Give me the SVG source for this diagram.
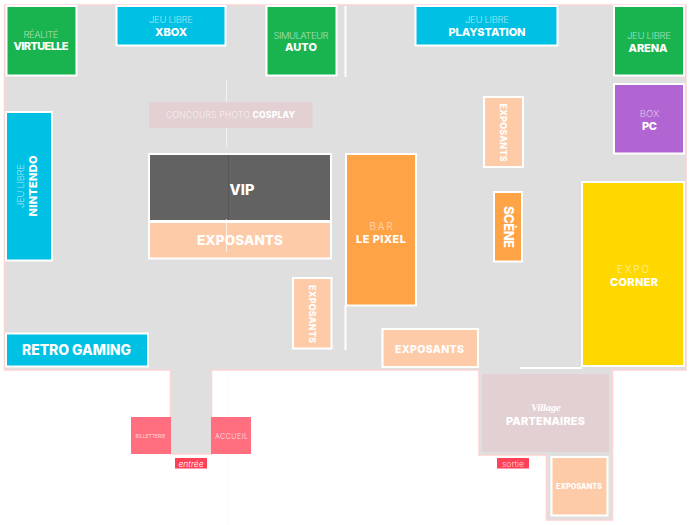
<svg xmlns="http://www.w3.org/2000/svg" width="691" height="525" viewBox="0 0 691 525">
<style>
.n{stroke:#fff;stroke-width:2}
text{font-family:Inter,"Open Sans","Liberation Sans",sans-serif;fill:#fff;text-anchor:middle}
.l{font-size:9.500px;font-weight:300;fill-opacity:.62}
.b{font-size:11px;font-weight:800}
.w{stroke:#fff;stroke-width:2;fill:none}
.f{stroke:#fff;stroke-width:1;fill:none;stroke-opacity:.55}
</style>
<rect width="691" height="525" fill="#fff"/>
<g id="floor">
<path d="M5 5H686V370H612.500V520H546.500V455H479V370H211.500V454H170.500V370H4.500V5Z" fill="#dfdfdf" stroke="#fbd4d4" stroke-width="1.500"/>
</g>
<g id="connectors">
<path class="w" d="M345.500 6V77M345.500 305V350M520 368H582"/>
<path class="f" d="M226.500 80V147"/>
<path d="M228 375V525" stroke="#fcf9f9" stroke-width="1" fill="none"/>
</g>
<g id="realite"><rect class="n" x="6.500" y="6" width="70" height="69.500" fill="#19b34f"/><text class="l" x="41" y="38" textLength="35">RÉALITÉ</text><text class="b" x="41" y="50" textLength="55">VIRTUELLE</text></g>
<g id="xbox"><rect class="n" x="116.500" y="6" width="109" height="39.500" fill="#00c1e4"/><text class="l" x="171" y="23" textLength="44">JEU LIBRE</text><text class="b" x="171" y="36" textLength="32">XBOX</text></g>
<g id="auto"><rect class="n" x="266.500" y="6" width="70" height="69.500" fill="#19b34f"/><text class="l" x="301" y="39" textLength="55">SIMULATEUR</text><text class="b" x="301" y="51" textLength="32">AUTO</text></g>
<g id="playstation"><rect class="n" x="415.500" y="6" width="142" height="39.500" fill="#00c1e4"/><text class="l" x="487" y="23" textLength="44">JEU LIBRE</text><text class="b" x="487" y="36" textLength="77">PLAYSTATION</text></g>
<g id="arena"><rect class="n" x="614" y="6" width="70" height="69.500" fill="#19b34f"/><text class="l" x="649" y="39" textLength="44">JEU LIBRE</text><text class="b" x="648" y="52" textLength="39">ARENA</text></g>
<g id="box-pc"><rect class="n" x="614" y="84" width="70" height="69.500" fill="#b165d2"/><text class="l" x="649.500" y="117">BOX</text><text class="b" x="649.500" y="130" textLength="15">PC</text></g>
<g id="expo-corner"><rect class="n" x="582" y="182" width="102" height="184" fill="#ffd800"/><text x="633" y="272.500" font-size="10" font-weight="300" fill-opacity=".62" textLength="32">EXPO</text><text class="b" x="634" y="286" textLength="48">CORNER</text></g>
<g id="concours"><rect x="149" y="102" width="163.500" height="26" fill="#e3d0d3"/><text x="230.500" y="118" font-size="8.500" font-weight="300" fill-opacity=".7" textLength="129">CONCOURS PHOTO <tspan font-weight="800" fill-opacity="1">COSPLAY</tspan></text></g>
<g id="nintendo"><rect class="n" x="6" y="112" width="46" height="148.500" fill="#00c1e4"/><text class="l" transform="translate(24 186) rotate(-90)" textLength="44">JEU LIBRE</text><text class="b" transform="translate(37 186) rotate(-90)" textLength="61">NINTENDO</text></g>
<g id="vip"><rect class="n" x="149" y="154" width="182" height="67" fill="#626262"/><path d="M228.500 155V220" stroke="#565656" stroke-width="1"/><text x="242" y="195" font-size="14.500" font-weight="800" textLength="25">VIP</text></g>
<g id="exposants-main"><rect class="n" x="149" y="222" width="182" height="36.500" fill="#fecba9"/><path d="M226.500 219V252" stroke="#fff" stroke-opacity=".7" stroke-width="1"/><text x="240" y="245" font-size="13.500" font-weight="800" textLength="86">EXPOSANTS</text></g>
<g id="bar"><rect class="n" x="346" y="154" width="70" height="151.500" fill="#ffa347"/><text x="381" y="229.500" font-size="10" font-weight="300" fill-opacity=".62" textLength="23">BAR</text><text class="b" x="381" y="243" textLength="50">LE PIXEL</text></g>
<g id="exposants-top"><rect class="n" x="484" y="97" width="39" height="70" fill="#fecba9"/><text transform="translate(499.500 132.500) rotate(90)" font-size="8.800" font-weight="800" textLength="58">EXPOSANTS</text></g>
<g id="scene"><rect class="n" x="494" y="192" width="28" height="69.500" fill="#ffa347"/><text transform="translate(504 227) rotate(90)" font-size="13" font-weight="800" textLength="42">SCÈNE</text></g>
<g id="exposants-vertical"><rect class="n" x="293" y="278" width="38.500" height="70.500" fill="#fecba9"/><text transform="translate(309 314) rotate(90)" font-size="8.800" font-weight="800" textLength="58">EXPOSANTS</text></g>
<g id="exposants-bottom"><rect class="n" x="382.500" y="329" width="95.500" height="38" fill="#fecba9"/><text x="429.500" y="353" font-size="10.500" font-weight="800" textLength="69">EXPOSANTS</text></g>
<g id="retro"><rect class="n" x="6" y="333.500" width="142" height="33" fill="#00c1e4"/><text x="76.500" y="354.500" font-size="14" font-weight="800" textLength="109">RETRO GAMING</text></g>
<g id="village"><rect x="482" y="374" width="127" height="78" fill="#e3d0d3"/><text x="546" y="410.500" font-size="11" font-style="italic" font-weight="700" style="font-family:'Liberation Serif',serif" textLength="30">Village</text><text class="b" x="545.500" y="425" textLength="79">PARTENAIRES</text></g>
<g id="exposants-village"><rect class="n" x="551.500" y="457" width="56" height="58.500" fill="#fecba9"/><text x="579" y="489" font-size="7.200" font-weight="800" textLength="46">EXPOSANTS</text></g>
<g id="billetterie"><rect x="131" y="417" width="40" height="37" fill="#ff6f80"/><text x="150.500" y="438" font-size="4.800" fill-opacity=".75" textLength="30">BILLETTERIE</text></g>
<g id="accueil"><rect x="211" y="417" width="40" height="37" fill="#ff6f80"/><text x="231.500" y="439" font-size="7" font-weight="300" fill-opacity=".8" textLength="33">ACCUEIL</text></g>
<g id="entree"><rect x="175" y="458" width="32" height="10.500" fill="#ff4158"/><text x="191" y="466.500" font-size="8.500" font-style="italic" font-weight="300">entrée</text></g>
<g id="sortie"><rect x="497" y="458" width="32" height="10.500" fill="#ff4158"/><text x="513" y="466.500" font-size="8.500" font-weight="300" fill-opacity=".8">sortie</text></g>
</svg>
